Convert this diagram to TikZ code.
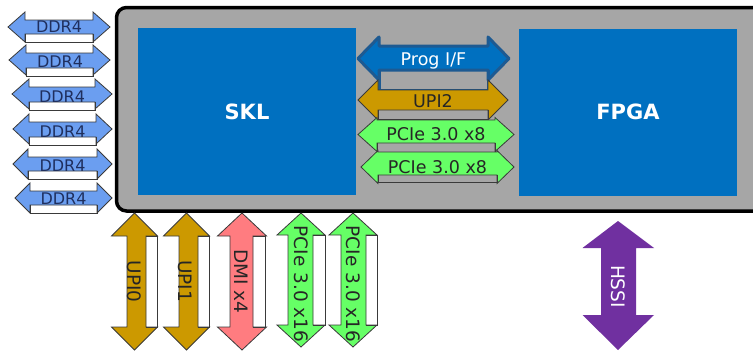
\documentclass[tikz,border=0pt]{standalone}
\usepackage{fontspec}
\setmainfont{DejaVu Sans}
\definecolor{boxgrey}{HTML}{A6A6A6}
\definecolor{chipblue}{HTML}{0070C0}
\definecolor{progedge}{HTML}{1D5A92}
\definecolor{ddrblue}{HTML}{6B9EF0}
\definecolor{ddrtext}{HTML}{1F2F5E}
\definecolor{upigold}{HTML}{CC9900}
\definecolor{dmipink}{HTML}{FF7C80}
\definecolor{pcigreen}{HTML}{66FF66}
\definecolor{hssipurple}{HTML}{7030A0}
\definecolor{edgegrey}{HTML}{3A3A3A}
\definecolor{lbltext}{HTML}{262626}
\newcommand{\harr}[9][]{%
  \path[#1] (#2,#4) -- ({#2+#6},{#4-#5}) -- ({#2+#6},#7) -- ({#3-#6},#7) -- ({#3-#6},{#4-#5}) -- (#3,#4) -- ({#3-#6},{#4+#5}) -- ({#3-#6},#8) -- ({#2+#6},#8) -- ({#2+#6},{#4+#5}) -- cycle;
  \path[#1,fill=none] ({#2+#6},#8) -- ({#2+#6},#9) -- ({#3-#6},#9) -- ({#3-#6},#8);
}
\newcommand{\varr}[9][]{%
  \path[#1] (#2,#3) -- ({#2+#5},{#3+#6}) -- (#8,{#3+#6}) -- (#8,{#4-#6}) -- ({#2+#5},{#4-#6}) -- (#2,#4) -- ({#2-#5},{#4-#6}) -- (#7,{#4-#6}) -- (#7,{#3+#6}) -- ({#2-#5},{#3+#6}) -- cycle;
  \path[#1,fill=none] (#8,{#3+#6}) -- (#9,{#3+#6}) -- (#9,{#4-#6}) -- (#8,{#4-#6});
}
\begin{document}
\begin{tikzpicture}[x=1pt,y=-1pt,
  mainbox/.style={draw=black, line width=3.5pt, rounded corners=10pt, fill=boxgrey},
  chip/.style={fill=chipblue, draw=none, text=white, font=\fontsize{21}{24}\selectfont\bfseries, minimum width=218pt, minimum height=167pt, inner sep=0pt},
  thinedge/.style={draw=edgegrey, line width=0.8pt, line join=miter},
  ddr/.style={thinedge, fill=ddrblue},
  gold/.style={thinedge, fill=upigold},
  pink/.style={thinedge, fill=dmipink},
  green/.style={thinedge, fill=pcigreen},
  prog/.style={draw=progedge, line width=3pt, line join=round, fill=chipblue},
  hssi/.style={fill=hssipurple, draw=none},
  ddrlbl/.style={font=\fontsize{16}{18}\selectfont, text=ddrtext, inner sep=0pt, anchor=base},
  hlbl/.style={font=\fontsize{17.5}{20}\selectfont, text=lbltext, inner sep=0pt, anchor=base},
  vlbl/.style={font=\fontsize{18.5}{21}\selectfont, text=lbltext, inner sep=0pt, rotate=-90}
]
\clip (0,0) rectangle (753,351);
\fill[white] (0,0) rectangle (753,351);

% main package box
\path[mainbox] (116.5,7.5) rectangle (800,211);

% dies
\node[chip] (skl) at (247,111.5) {SKL};
\node[chip] (fpga) at (628,112) {FPGA};

% DDR4 arrows
\harr[ddr]{8}{110}{27}{15}{17}{20}{34}{42}
\node[ddrlbl] (d1) at (59,32) {DDR4};
\harr[ddr]{9}{110}{60}{15}{17}{53}{68}{76}
\node[ddrlbl] (d2) at (60,67) {DDR4};
\harr[ddr]{12}{112}{94}{15}{17}{87}{102}{110}
\node[ddrlbl] (d3) at (62,102) {DDR4};
\harr[ddr]{13}{112}{129}{15}{16}{122}{137}{145}
\node[ddrlbl] (d4) at (62.5,137) {DDR4};
\harr[ddr]{13}{112}{164}{15}{15}{157}{171}{179}
\node[ddrlbl] (d5) at (62.5,171) {DDR4};
\harr[ddr]{15}{112}{198}{15}{15}{191}{205}{213}
\node[ddrlbl] (d6) at (63.5,204) {DDR4};

% SKL-FPGA links
\harr[prog]{358}{509}{58.5}{21.5}{21}{46}{70}{90}
\node[hlbl, text=white] (prg) at (433.5,65) {Prog I/F};
\harr[gold]{358}{508}{100}{20}{20}{90}{110}{119}
\node[hlbl] (upi2) at (433,107.5) {UPI2};
\harr[green]{358}{514}{134.5}{17}{19}{120}{143}{158}
\node[hlbl] (pa) at (436,140.5) {PCIe 3.0 x8};
\harr[green]{361}{514}{167}{16.5}{17}{152}{175}{182}
\node[hlbl] (pb) at (437.5,173.5) {PCIe 3.0 x8};

% vertical links
\varr[gold]{134.5}{213}{350}{23}{23}{127}{146}{157}
\node[vlbl] (u0) at (134,281.5) {UPI0};
\varr[gold]{186.5}{213}{350}{23}{23}{179}{198}{209}
\node[vlbl] (u1) at (185.6,281) {UPI1};
\varr[pink]{242}{213}{350}{24.5}{23}{230}{253}{265}
\node[vlbl] (dmi) at (241.7,281.5) {DMI x4};
\varr[green]{301}{213}{347}{24}{22}{288}{313}{325}
\node[vlbl] (x16a) at (301,284) {PCIe 3.0 x16};
\varr[green]{353}{213}{347}{24}{22}{341}{366}{377}
\node[vlbl] (x16b) at (353.5,284) {PCIe 3.0 x16};

% HSSI
\path[hssi] (618,221) -- (654,248) -- (636,248) -- (636,315) -- (654,315) -- (618,350) -- (582.5,315) -- (601,315) -- (601,248) -- (582.5,248) -- cycle;
\node[vlbl, text=white] (hssi) at (618.5,286.5) {HSSI};
\end{tikzpicture}
\end{document}
